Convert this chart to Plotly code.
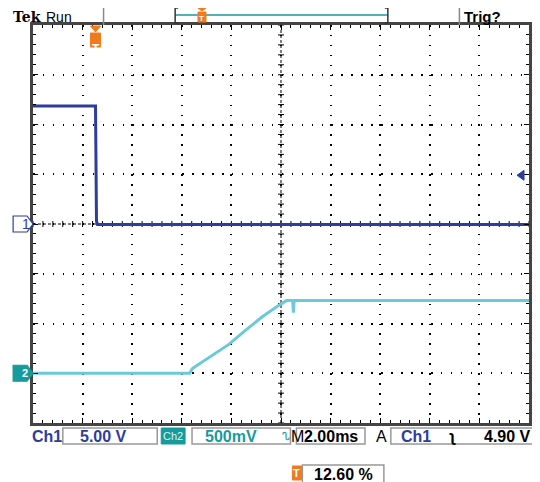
import plotly.graph_objects as go

ch1_t = [-2.52, 0.00, 0.04, 0.08, 17.48]          # ms
ch1_v = [11.86, 11.86, 0.3, -0.05, -0.05]          # V
ch2_t = [-2.52, 3.80, 3.905, 4.706, 5.376, 6.045, 6.71, 7.38, 7.58, 7.70, 7.95, 7.98, 8.01, 17.48]
ch2_v = [0.00, 0.00, 0.047, 0.18, 0.29, 0.43, 0.565, 0.68, 0.717, 0.73, 0.73, 0.61, 0.73, 0.73]
trig_level = 4.90          # V on Ch1
trig_pos_pct = 12.60       # %
ch1_scale = 5.0            # V/div
ch2_scale = 0.5            # V/div
ch2_offset_div = -3        # ground marker position (divisions)
time_scale = 2.0           # ms/div
labels = {"ch1": "5.00 V", "ch2": "500mV", "tb": "2.00ms", "trig": "4.90 V", "pos": "12.60 %"}

# ---------------- geometry (reference pixel coordinates) ----------------
OFF = 8                       # page body margin of the browser
W, H = 540 - OFF, 482 - OFF
L, R, T, B = 33, 532, 25, 423
x_left = -trig_pos_pct / 100 * 10 * time_scale
x_right = x_left + 10 * time_scale
y1_lo, y1_hi = -4 * ch1_scale, 4 * ch1_scale
y2_lo = (-4 - ch2_offset_div) * ch2_scale
y2_hi = (4 - ch2_offset_div) * ch2_scale

def px(X):
    return (X - L) / (R - L)

def py(Y):
    return (B - Y) / (B - T)

BLUE = "#2e3d9c"
CYAN = "#6ccad8"
TEAL = "#179a9c"
ORANGE = "#f07a1c"
FONT = "Liberation Sans"

fig = go.Figure()
fig.add_trace(go.Scatter(x=ch2_t, y=ch2_v, yaxis="y2", mode="lines",
                         line=dict(color=CYAN, width=3), showlegend=False, hoverinfo="skip"))
fig.add_trace(go.Scatter(x=ch1_t, y=ch1_v, mode="lines",
                         line=dict(color=BLUE, width=3), showlegend=False, hoverinfo="skip"))

shapes = []
# center cross lines
xc = x_left + 5 * time_scale
shapes.append(dict(type="line", xref="x", yref="paper", x0=xc, x1=xc, y0=0, y1=1,
                   line=dict(color="black", width=1, dash="3px,2px"), layer="below"))
shapes.append(dict(type="line", xref="paper", yref="y", x0=0, x1=1, y0=0, y1=0,
                   line=dict(color="black", width=1, dash="3px,2px"), layer="below"))
# tick marks on center lines
p = ""
dx = 3 / ((R - L) / (10 * time_scale))
dy = 3 / ((B - T) / (8 * ch1_scale))
for k in range(51):
    xx = x_left + k * time_scale / 5
    p += f"M{xx},{-dy} L{xx},{dy} "
for k in range(41):
    yy = y1_lo + k * ch1_scale / 5
    p += f"M{xc-dx},{yy} L{xc+dx},{yy} "
shapes.append(dict(type="path", xref="x", yref="y", path=p,
                   line=dict(color="black", width=1), layer="below"))

# ----- top bar -----
for X in (104, 462):
    shapes.append(dict(type="line", xref="paper", yref="paper", x0=px(X), x1=px(X),
                       y0=py(25), y1=py(8), line=dict(color="#888", width=1.5)))
shapes.append(dict(type="line", xref="paper", yref="paper", x0=px(176), x1=px(390),
                   y0=py(15), y1=py(15), line=dict(color=TEAL, width=1.5)))
for X, s in ((176, 1), (390, -1)):
    shapes.append(dict(type="path", xref="paper", yref="paper",
                       path=f"M{px(X+3*s)},{py(8)} L{px(X)},{py(8)} L{px(X)},{py(23)} L{px(X+3*s)},{py(23)}",
                       line=dict(color="#333", width=1.5)))
# small orange T in the bar
shapes.append(dict(type="path", xref="paper", yref="paper",
                   path=f"M{px(199)},{py(8)} L{px(207)},{py(8)} L{px(203)},{py(11)} Z",
                   fillcolor=ORANGE, line=dict(color=ORANGE, width=1)))
shapes.append(dict(type="rect", xref="paper", yref="paper", x0=px(199), x1=px(207),
                   y0=py(22), y1=py(12), fillcolor=ORANGE, line=dict(color=ORANGE, width=1)))

# trigger position marker (orange T below top border)
tdx = 5 / ((R - L) / (10 * time_scale))
shapes.append(dict(type="path", xref="x", yref="paper",
                   path=f"M{-tdx},{py(26)} L{tdx},{py(26)} L0,{py(32)} Z",
                   fillcolor=ORANGE, line=dict(color=ORANGE, width=1)))
shapes.append(dict(type="rect", xref="x", yref="paper", x0=-tdx, x1=tdx,
                   y0=py(47), y1=py(33), fillcolor=ORANGE, line=dict(color=ORANGE, width=1)))

# channel ground markers
def pent(y, yref, fill, edge):
    k = (B - T) / 8 / (ch1_scale if yref == "y" else ch2_scale)
    h = 8 / k
    return dict(type="path", xref="paper", yref=yref,
                path=(f"M{px(13)},{y-h} L{px(27)},{y-h} L{px(33)},{y} "
                      f"L{px(27)},{y+h} L{px(13)},{y+h} Z"),
                fillcolor=fill, line=dict(color=edge, width=1.2))
shapes.append(pent(0, "y", "white", BLUE))
shapes.append(pent(0, "y2", TEAL, TEAL))

# trigger level arrow on right
ty = trig_level
hk = 5 / ((B - T) / (8 * ch1_scale))
shapes.append(dict(type="path", xref="paper", yref="y",
                   path=f"M{px(520)},{ty} L{px(527)},{ty-hk} L{px(527)},{ty+hk} Z",
                   fillcolor=BLUE, line=dict(color=BLUE, width=1)))

# ----- bottom readout boxes -----
for X0, X1 in ((63, 158), (193, 292), (298, 367), (393, 545)):
    shapes.append(dict(type="rect", xref="paper", yref="paper", x0=px(X0), x1=px(X1),
                       y0=py(444), y1=py(428), line=dict(color="#999", width=1.5), fillcolor="white"))
shapes.append(dict(type="rect", xref="paper", yref="paper", x0=px(162), x1=px(186),
                   y0=py(444), y1=py(428), line=dict(color=TEAL, width=1), fillcolor=TEAL))
shapes.append(dict(type="rect", xref="paper", yref="paper", x0=px(304), x1=px(386),
                   y0=py(483), y1=py(465), line=dict(color="#999", width=1.5), fillcolor="white"))
shapes.append(dict(type="rect", xref="paper", yref="paper", x0=px(294), x1=px(303),
                   y0=py(480), y1=py(466), line=dict(color=ORANGE, width=1), fillcolor=ORANGE))

ann = []
def text(X, Y, s, color="black", size=16, bold=True, anchor="left", family=FONT):
    ann.append(dict(xref="paper", yref="paper", x=px(X), y=py(Y), text=(f"<b>{s}</b>" if bold else s),
                    showarrow=False, xanchor=anchor, yanchor="middle",
                    font=dict(family=family, size=size, color=color)))

text(11, 17, "Tek", size=14, family="DejaVu Serif")
text(44, 17, "Run", size=14, bold=False)
text(465, 17, "Trig?", size=15)
text(30, 436, "Ch1", color=BLUE)
text(104, 436, labels["ch1"], color=BLUE, anchor="center")
text(174, 436, "Ch2", color="#d8f4f4", size=11, anchor="center", bold=False)
text(232, 436, labels["ch2"], color=TEAL, anchor="center")
text(288, 436, "ᔐ", color=TEAL, size=11, anchor="center", bold=False)
text(299, 436, "M", anchor="center", bold=False)
text(333, 436, labels["tb"], anchor="center")
text(384, 436, "A", anchor="center", bold=False)
text(418, 436, "Ch1", color=BLUE, anchor="center")
text(455, 436, "ʅ", anchor="center")
text(510, 436, labels["trig"], anchor="center")
text(298, 473, "T", color="white", size=11, anchor="center")
text(345, 474, labels["pos"], anchor="center")
text(203, 18, "T", color="white", size=8, anchor="center")
ann.append(dict(xref="x", yref="paper", x=0, y=py(40), text="<b>T</b>", showarrow=False,
                font=dict(family=FONT, size=12, color="white")))
ann.append(dict(xref="paper", yref="y", x=px(20), y=0, text="1", showarrow=False,
                font=dict(family=FONT, size=14, color=BLUE)))
ann.append(dict(xref="paper", yref="y2", x=px(20), y=0, text="<b>2</b>", showarrow=False,
                font=dict(family=FONT, size=11, color="white")))

axis_common = dict(showticklabels=False, showgrid=True, gridcolor="black", gridwidth=1.5,
                   griddash="1.5px,8.45px", zeroline=False, showline=True, linecolor="#444",
                   linewidth=2.5, mirror="ticks", ticks="inside", ticklen=5, tickcolor="black",
                   tickwidth=1.2)
fig.update_layout(
    width=W, height=H,
    margin=dict(l=L - OFF, r=W - (R - OFF), t=T - OFF, b=H - (B - OFF), pad=0),
    paper_bgcolor="white", plot_bgcolor="white",
    xaxis=dict(range=[x_left, x_right], tick0=x_left, dtick=time_scale,
               minor=dict(ticks="inside", dtick=time_scale / 5, tick0=x_left, ticklen=3,
                          tickcolor="black", showgrid=False), **axis_common),
    yaxis=dict(range=[y1_lo, y1_hi], tick0=y1_lo, dtick=ch1_scale,
               minor=dict(ticks="inside", dtick=ch1_scale / 5, tick0=y1_lo, ticklen=3,
                          tickcolor="black", showgrid=False), **axis_common),
    yaxis2=dict(range=[y2_lo, y2_hi], overlaying="y", visible=False),
    shapes=shapes, annotations=ann, showlegend=False,
)
fig.write_html("out.html")
